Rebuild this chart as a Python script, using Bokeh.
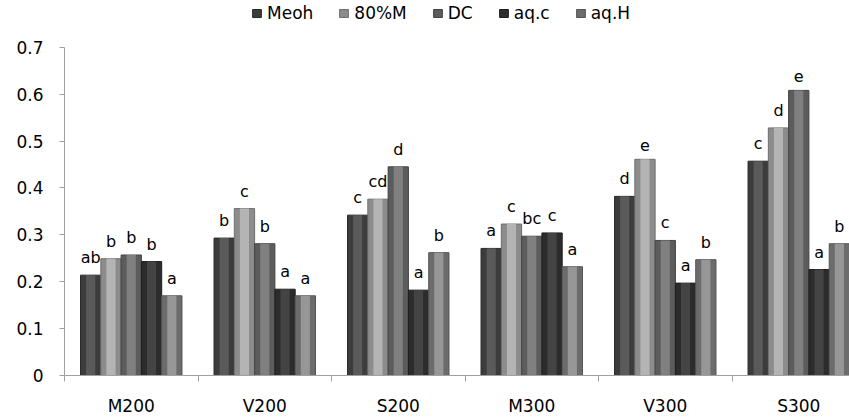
from bokeh.plotting import figure
from bokeh.models import Range1d, FixedTicker, ColumnDataSource, Legend, LegendItem
from bokeh.core.properties import value
from bokeh.embed import file_html
from bokeh.resources import INLINE

categories = ["M200", "V200", "S200", "M300", "V300", "S300"]
series = ["Meoh", "80%M", "DC", "aq.c", "aq.H"]

meoh = [0.214, 0.293, 0.342, 0.271, 0.382, 0.457]
m80 = [0.249, 0.356, 0.376, 0.323, 0.461, 0.528]
dc = [0.257, 0.281, 0.445, 0.297, 0.288, 0.608]
aqc = [0.243, 0.184, 0.182, 0.304, 0.197, 0.226]
aqh = [0.170, 0.170, 0.262, 0.232, 0.247, 0.281]

let_meoh = ["ab", "b", "c", "a", "d", "c"]
let_m80 = ["b", "c", "cd", "c", "e", "d"]
let_dc = ["b", "b", "d", "bc", "c", "e"]
let_aqc = ["b", "a", "a", "c", "a", "a"]
let_aqh = ["a", "a", "b", "a", "b", "b"]

y_ticks = [0, 0.1, 0.2, 0.3, 0.4, 0.5, 0.6, 0.7]

values = [meoh, m80, dc, aqc, aqh]
letters = [let_meoh, let_m80, let_dc, let_aqc, let_aqh]
edge_colors = ["#3c3c3c", "#8c8c8c", "#5c5c5c", "#2c2c2c", "#6c6c6c"]
mid_colors = ["#5a5a5a", "#b4b4b4", "#808080", "#444444", "#979797"]
line_colors = ["#2a2a2a", "#6e6e6e", "#444444", "#1e1e1e", "#555555"]

FONT = "DejaVu Sans"
n = len(categories)
bar_w = 0.152
offsets = [(j - 2) * bar_w for j in range(5)]

p = figure(width=849, height=418, output_backend="svg", toolbar_location=None,
           x_range=Range1d(0, 5.88), y_range=Range1d(0, 0.7 + 47 / 471.4),
           min_border_left=64, min_border_right=0, min_border_top=0, min_border_bottom=41)
p.outline_line_color = None
p.xgrid.visible = False
p.ygrid.visible = False
p.background_fill_color = "white"

items = []
for j in range(5):
    xs = [i + 0.5 + offsets[j] for i in range(n)]
    src = ColumnDataSource(dict(x=xs, top=values[j], lab=letters[j]))
    r = p.vbar(x="x", top="top", bottom=0, width=bar_w, source=src,
               fill_color=edge_colors[j], line_color=line_colors[j], line_width=1)
    p.vbar(x="x", top="top", bottom=0, width=bar_w * 0.45, source=src,
           fill_color=mid_colors[j], line_color=None)
    p.text(x="x", y="top", text="lab", source=src, text_align="center",
           text_baseline="bottom", y_offset=-8, text_font=value(FONT),
           text_font_size="16px", text_color="#000000")
    items.append(LegendItem(label=series[j], renderers=[r]))

legend = Legend(items=items, orientation="horizontal", location=(187, 352),
                glyph_width=11, glyph_height=10, label_standoff=5, spacing=25,
                padding=0, margin=0, border_line_color=None,
                background_fill_alpha=0, label_text_font=FONT,
                label_text_font_size="17px", label_text_color="#000000")
p.add_layout(legend, "center")

ya = p.yaxis[0]
ya.ticker = FixedTicker(ticks=y_ticks)
ya.major_label_overrides = {0: "0"}
ya.bounds = (0, 0.7)
ya.axis_line_color = "#a0a0a0"
ya.major_tick_line_color = "#a0a0a0"
ya.major_tick_out = 5
ya.major_tick_in = 0
ya.minor_tick_line_color = None
ya.major_label_standoff = 16
ya.major_label_text_font = FONT
ya.major_label_text_font_size = "17px"
ya.major_label_text_color = "#000000"

xa = p.xaxis[0]
xa.ticker = FixedTicker(ticks=[i + 0.5 for i in range(n)], minor_ticks=list(range(n + 1)))
xa.major_label_overrides = {i + 0.5: categories[i] for i in range(n)}
xa.axis_line_color = "#a0a0a0"
xa.major_tick_line_color = None
xa.major_tick_out = 0
xa.major_tick_in = 0
xa.minor_tick_line_color = "#a0a0a0"
xa.minor_tick_out = 6
xa.minor_tick_in = 0
xa.major_label_standoff = 14
xa.major_label_text_font = FONT
xa.major_label_text_font_size = "17px"
xa.major_label_text_color = "#000000"

open("out.html", "w").write(file_html(p, INLINE))
